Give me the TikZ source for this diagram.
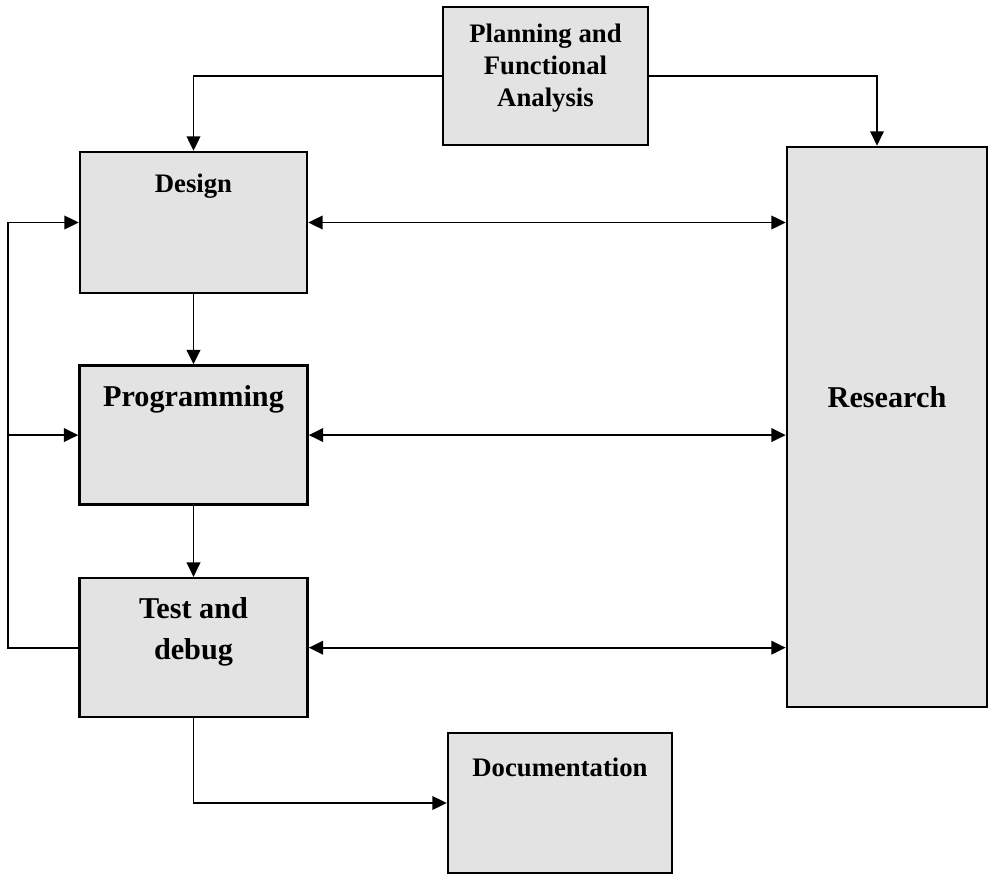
\documentclass[tikz,border=0pt]{standalone}
\usepackage{fontspec}
\setmainfont{Liberation Serif}
\usetikzlibrary{arrows.meta,positioning}

\begin{document}
\begin{tikzpicture}[
    x=0.025cm, y=-0.025cm,
    box/.style 2 args={rectangle, draw=black, line width=1.8pt, fill=black!11, minimum width=#1, minimum height=#2, inner sep=0pt},
    lbl/.style={align=center, font=\fontsize{19}{23}\selectfont\bfseries, inner sep=0pt},
    biglbl/.style={lbl, font=\fontsize{21.5}{26}\selectfont\bfseries},
    arr/.style={-{Triangle[length=0.36cm,width=0.34cm]}, line width=1.4pt},
    dbl/.style={{Triangle[length=0.36cm,width=0.34cm]}-{Triangle[length=0.36cm,width=0.34cm]}, line width=1.4pt}
]
    \useasboundingbox (0,0) rectangle (988,874);

    % Boxes
    \node[box={5.125cm}{3.45cm}]                 (plan)     at (545.5,76)   {};
    \node[box={5.675cm}{3.525cm}]                (design)   at (193.5,222.5) {};
    \node[box={5.7cm}{3.475cm}, below=1.75cm of design]  (prog) {};
    \node[box={5.7cm}{3.475cm}, below=1.775cm of prog]   (test) {};
    \node[box={5cm}{14cm}]                       (research) at (887,427)    {};
    \node[box={5.6cm}{3.5cm}]                    (doc)      at (560,803)    {};

    % Labels
    \node[lbl]    (planlbl)     at ([yshift=0.2cm]plan.center)      {Planning and\\Functional\\Analysis};
    \node[lbl]    (designlbl)   at ([yshift=0.9cm]design.center)    {Design};
    \node[biglbl] (proglbl)     at ([yshift=0.9cm]prog.center)      {Programming};
    \node[biglbl] (testlbl)     at ([yshift=0.39cm]test.center)     {Test and\\[3pt]debug};
    \node[biglbl] (researchlbl) at ([yshift=0.75cm]research.center) {Research};
    \node[lbl]    (doclbl)      at ([yshift=0.9cm]doc.center)       {Documentation};

    % Planning to design and research
    \draw[arr] (plan.west) -| (design.north);
    \draw[arr] (plan.east) -| ([xshift=-0.25cm]research.north);

    % Main chain
    \draw[arr] (design.south) -- (design.south |- prog.north);
    \draw[arr] (prog.south) -- (prog.south |- test.north);
    \draw[arr] (test.south) |- (doc.west);

    % Research links
    \draw[dbl] (design.east) -- (design.east -| research.west);
    \draw[dbl] (prog.east)   -- (prog.east -| research.west);
    \draw[dbl] (test.east)   -- (test.east -| research.west);

    % Feedback loop
    \draw[arr] (test.west) -- ++(-1.75cm,0) coordinate (fb) |- (design.west);
    \draw[arr] (fb |- prog.west) -- (prog.west);

\end{tikzpicture}
\end{document}
